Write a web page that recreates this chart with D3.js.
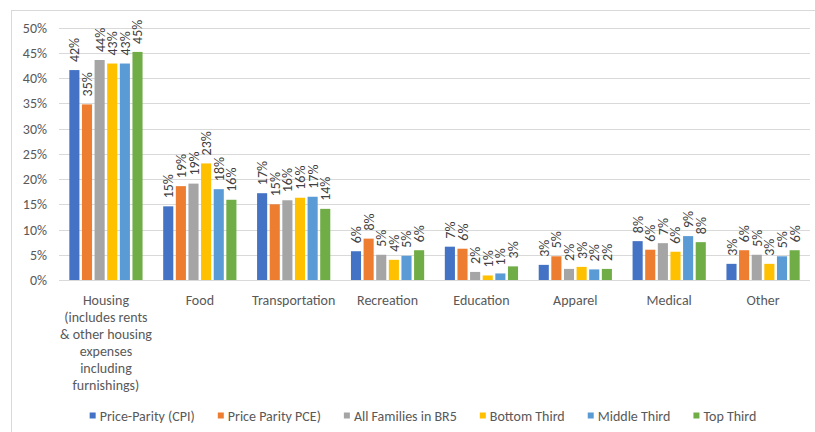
<!DOCTYPE html>
<html>
<head>
<meta charset="utf-8">
<script src="https://cdn.jsdelivr.net/npm/d3@7"></script>
<style>
  html, body { margin: 0; padding: 0; background: #fff; }
  svg { display: block; font-family: Carlito, Lato, "Open Sans", sans-serif; }
</style>
</head>
<body>
<svg id="chart" width="815" height="432"></svg>
<script>
// Expenditure categories (x axis)
const categories = [
  ["Housing", "(includes rents", "& other housing", "expenses", "including", "furnishings)"],
  ["Food"], ["Transportation"], ["Recreation"], ["Education"],
  ["Apparel"], ["Medical"], ["Other"]
];
const categoryKeys = ["Housing", "Food", "Transportation", "Recreation", "Education", "Apparel", "Medical", "Other"];

// Series names and colours
const seriesNames = ["Price-Parity (CPI)", "Price Parity PCE)", "All Families in BR5", "Bottom Third", "Middle Third", "Top Third"];
const seriesColors = ["#4472C4", "#ED7D31", "#A5A5A5", "#FFC000", "#5B9BD5", "#70AD47"];

// Budget shares (%) for each series, in category order
const priceParityCPI = [41.6, 14.6, 17.2, 5.7, 6.6, 3.0, 7.7, 3.2];
const priceParityPCE = [34.8, 18.6, 15.0, 8.2, 6.2, 4.7, 6.0, 5.9];
const allFamiliesBR5 = [43.6, 19.1, 15.8, 5.0, 1.6, 2.2, 7.3, 5.0];
const bottomThird    = [42.9, 23.1, 16.3, 4.0, 0.9, 2.6, 5.6, 3.2];
const middleThird    = [42.9, 18.0, 16.5, 4.8, 1.3, 2.1, 8.7, 4.7];
const topThird       = [45.2, 15.9, 14.1, 5.9, 2.7, 2.2, 7.5, 5.9];
const seriesValues = [priceParityCPI, priceParityPCE, allFamiliesBR5, bottomThird, middleThird, topThird];

// Y axis ticks
const yTicks = [0, 5, 10, 15, 20, 25, 30, 35, 40, 45, 50];

const svg = d3.select("#chart");

// Outer chart frame
svg.append("rect")
  .attr("x", 11.5).attr("y", 10.5)
  .attr("width", 830).attr("height", 440)
  .attr("fill", "none").attr("stroke", "#d9d9d9");

const plot = { left: 59, right: 810, top: 27.7, bottom: 280 };

const y = d3.scaleLinear().domain([0, 50]).range([plot.bottom, plot.top]);
const x0 = d3.scaleBand().domain(categoryKeys).range([plot.left, plot.right])
  .paddingInner(0.22).paddingOuter(0.11);
const x1 = d3.scaleBand().domain(d3.range(seriesNames.length)).range([0, x0.bandwidth()])
  .paddingInner(0.2).paddingOuter(0);

// Gridlines
svg.append("g").selectAll("line").data(yTicks).join("line")
  .attr("x1", plot.left).attr("x2", plot.right)
  .attr("y1", d => Math.round(y(d)) + 0.5).attr("y2", d => Math.round(y(d)) + 0.5)
  .attr("stroke", "#d9d9d9").attr("stroke-width", 1);

// Y axis labels
const yAxis = d3.axisLeft(y).tickValues(yTicks).tickFormat(d => d + "%").tickSize(0).tickPadding(0);
const yg = svg.append("g").attr("transform", `translate(47,0)`).call(yAxis);
yg.select(".domain").remove();
yg.selectAll("text").attr("fill", "#595959").attr("font-size", 14)
  .attr("font-family", "Carlito, Lato, 'Open Sans', sans-serif");

// Bars and value labels
const groups = svg.append("g").selectAll("g").data(categoryKeys).join("g")
  .attr("transform", d => `translate(${x0(d)},0)`);

groups.each(function(cat, ci) {
  const g = d3.select(this);
  const vals = seriesValues.map((s, si) => ({ si, v: s[ci] }));
  g.selectAll("rect").data(vals).join("rect")
    .attr("x", d => x1(d.si))
    .attr("y", d => y(d.v))
    .attr("width", x1.bandwidth())
    .attr("height", d => y(0) - y(d.v))
    .attr("fill", d => seriesColors[d.si]);
  g.selectAll("text").data(vals).join("text")
    .attr("transform", d => `translate(${x1(d.si) + x1.bandwidth() / 2 + 5},${y(d.v) - 8}) rotate(-90)`)
    .attr("text-anchor", "start")
    .attr("font-size", 14)
    .attr("fill", "#404040")
    .text(d => Math.round(d.v) + "%");
});

// Category labels
const cg = svg.append("g").selectAll("text").data(categories).join("text")
  .attr("text-anchor", "middle")
  .attr("font-size", 14)
  .attr("fill", "#595959")
  .attr("transform", (d, i) => `translate(${x0(categoryKeys[i]) + x0.bandwidth() / 2},305)`);
cg.selectAll("tspan").data(d => d).join("tspan")
  .attr("x", 0).attr("dy", (d, i) => i === 0 ? 0 : 17)
  .text(d => d);

// Legend
const legend = svg.append("g").attr("transform", "translate(0,416)");
const items = legend.selectAll("g").data(seriesNames).join("g");
items.append("rect").attr("width", 6).attr("height", 6).attr("y", -3.5)
  .attr("fill", (d, i) => seriesColors[i]);
items.append("text").attr("x", 10).attr("dy", "0.35em")
  .attr("font-size", 14).attr("fill", "#595959").text(d => d);
let cursor = 0;
const offsets = [];
items.each(function() {
  offsets.push(cursor);
  cursor += 10 + this.querySelector("text").getComputedTextLength() + 23;
});
const totalW = cursor - 23;
const startX = 423 - totalW / 2;
items.attr("transform", (d, i) => `translate(${startX + offsets[i]},0)`);
</script>
</body>
</html>
